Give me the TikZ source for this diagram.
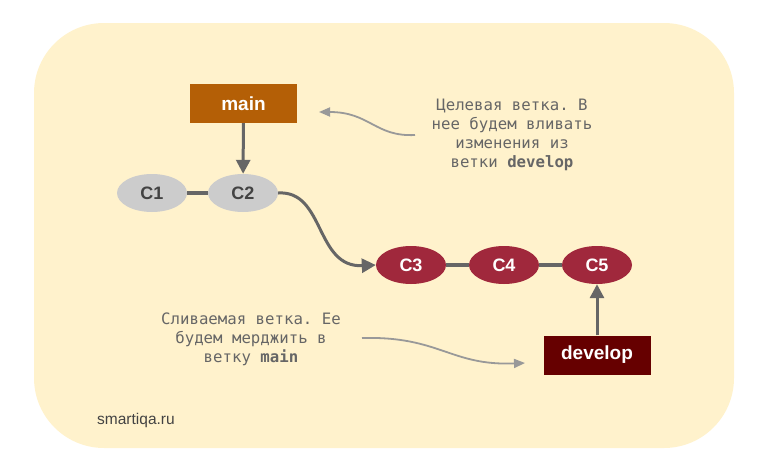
\documentclass[tikz,border=0pt]{standalone}
\usepackage{fontspec}
\setmainfont{Liberation Sans}
\setmonofont{DejaVu Sans Mono}
\usetikzlibrary{arrows.meta,shapes.geometric}
\definecolor{bgc}{HTML}{FFF2CC}
\definecolor{mainc}{HTML}{B45F06}
\definecolor{devc}{HTML}{660000}
\definecolor{redc}{HTML}{A0283C}
\definecolor{grayc}{HTML}{CCCCCC}
\definecolor{edgec}{HTML}{666666}
\definecolor{notec}{HTML}{999999}
\definecolor{darkt}{HTML}{434343}
\tikzset{
  branch/.style={rectangle, minimum width=107pt, minimum height=39pt, inner sep=0pt, text=white, font=\fontsize{19}{22}\selectfont\bfseries},
  commitg/.style={ellipse, fill=grayc, minimum width=70pt, minimum height=38pt, inner sep=0pt, text=darkt, font=\fontsize{18}{20}\selectfont\bfseries},
  commitr/.style={ellipse, fill=redc, minimum width=70pt, minimum height=38pt, inner sep=0pt, text=white, font=\fontsize{18}{20}\selectfont\bfseries},
  link/.style={draw=edgec, line width=4pt},
  ptr/.style={draw=edgec, line width=3pt, -{Triangle[width=14pt,length=14pt]}},
  note/.style={align=center, text=edgec, font=\ttfamily\fontsize{15.7}{19}\selectfont, inner sep=0pt},
  notearrow/.style={draw=notec, line width=1.8pt, -{Triangle[width=9pt,length=11pt]}},
}
\begin{document}
\begin{tikzpicture}[x=1pt,y=-1pt]
\useasboundingbox (0,0) rectangle (768,471);
\fill[bgc, rounded corners=70pt] (34,23) rectangle (734,448);

\node[branch, fill=mainc] (main) at (243.5,103.5) {main};
\node[commitg] (c1) at (152,193) {C1};
\node[commitg] (c2) at (243,193) {C2};
\node[commitr] (c3) at (411,265) {C3};
\node[commitr] (c4) at (504,265) {C4};
\node[commitr] (c5) at (597,265) {C5};
\node[branch, fill=devc] (dev) at (597,355) {develop};

\draw[link] (c1) -- (c2);
\draw[link] (c3) -- (c4);
\draw[link] (c4) -- (c5);
\draw[ptr] (main) -- (c2);
\draw[ptr] (dev) -- (c5);
\draw[ptr] (c2.east) .. controls (325,190) and (315,268) .. (c3.west);

\node[note] (n1) at (512,135) {Целевая ветка. В\\нее будем вливать\\изменения из\\ветки \textbf{develop}};
\node[note] (n2) at (251,339) {Сливаемая ветка. Ее\\будем мерджить в\\ветку \textbf{main}};
\node[text=darkt, font=\fontsize{15.5}{17}\selectfont, anchor=west, inner sep=0pt] (site) at (97,420) {smartiqa.ru};

\coordinate (a1s) at (415,135);
\coordinate (a1e) at (319,112);
\coordinate (a2s) at (362,338);
\coordinate (a2e) at (525,363);
\draw[notearrow] (a1s) .. controls (375,137) and (370,112) .. (a1e);
\draw[notearrow] (a2s) .. controls (440,336) and (450,366) .. (a2e);
\end{tikzpicture}
\end{document}
